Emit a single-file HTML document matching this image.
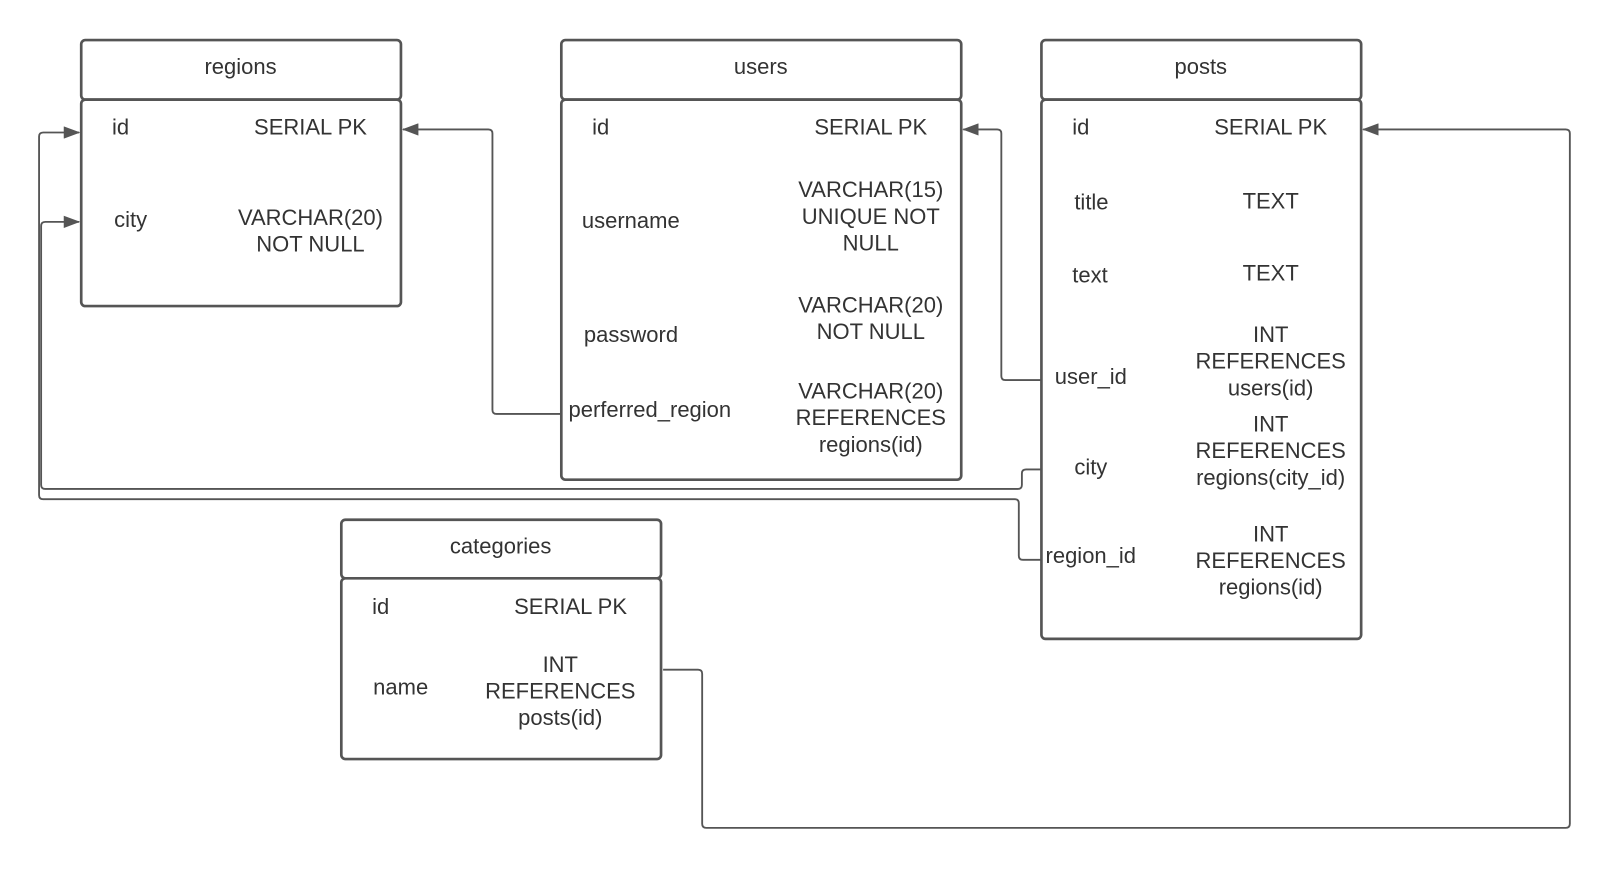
<!DOCTYPE html>
<html><head><meta charset="utf-8"><style>
html,body{margin:0;padding:0;background:#fff;}
svg{display:block;}
text{font-family:"Liberation Sans",sans-serif;font-size:21.4px;fill:#333;}
</style></head><body>
<svg width="1612" height="870" viewBox="0 0 1568 847" preserveAspectRatio="none" xmlns="http://www.w3.org/2000/svg">
<defs>
<marker id="a" markerWidth="16" markerHeight="12" refX="15" refY="6" orient="auto" markerUnits="userSpaceOnUse">
<path d="M0,0 L16,6 L0,12 z" fill="#555"/>
</marker>
</defs>
<g fill="none" stroke="#555" stroke-width="1.8" stroke-linejoin="round">
<path d="M555 403 H483 Q479 403 479 399 V130 Q479 126 475 126 H392" marker-end="url(#a)"/>
<path d="M1013 370 H978 Q974 370 974 366 V130 Q974 126 970 126 H937" marker-end="url(#a)"/>
<path d="M1013 457 H998 Q994 457 994 461 V472 Q994 476 990 476 H44 Q40 476 40 472 V220 Q40 216 44 216 H77" marker-end="url(#a)"/>
<path d="M1013 545 H995 Q991 545 991 541 V490 Q991 486 987 486 H42 Q38 486 38 482 V133 Q38 129 42 129 H77" marker-end="url(#a)"/>
<path d="M645 652 H679 Q683 652 683 656 V802 Q683 806 687 806 H1523 Q1527 806 1527 802 V130 Q1527 126 1523 126 H1326" marker-end="url(#a)"/>
</g>
<g fill="#fff" stroke="#555" stroke-width="2.6">
<rect x="79" y="39" width="311" height="58" rx="4"/>
<rect x="79" y="97" width="311" height="201" rx="4"/>
<rect x="546" y="39" width="389" height="58" rx="4"/>
<rect x="546" y="97" width="389" height="370" rx="4"/>
<rect x="1013" y="39" width="311" height="58" rx="4"/>
<rect x="1013" y="97" width="311" height="525" rx="4"/>
<rect x="332" y="506" width="311" height="57" rx="4"/>
<rect x="332" y="563" width="311" height="176" rx="4"/>
</g>
<g>
<text x="234" y="72" text-anchor="middle">regions</text>
<text x="109" y="131">id</text>
<text x="302" y="131" text-anchor="middle">SERIAL PK</text>
<text x="111" y="221">city</text>
<text x="302" y="219" text-anchor="middle">VARCHAR(20)</text>
<text x="302" y="245" text-anchor="middle">NOT NULL</text>

<text x="740" y="72" text-anchor="middle">users</text>
<text x="576" y="131">id</text>
<text x="847" y="131" text-anchor="middle">SERIAL PK</text>
<text x="566" y="222">username</text>
<text x="847" y="192" text-anchor="middle">VARCHAR(15)</text>
<text x="847" y="218" text-anchor="middle">UNIQUE NOT</text>
<text x="847" y="244" text-anchor="middle">NULL</text>
<text x="568" y="333">password</text>
<text x="847" y="304" text-anchor="middle">VARCHAR(20)</text>
<text x="847" y="330" text-anchor="middle">NOT NULL</text>
<text x="553" y="406">perferred_region</text>
<text x="847" y="388" text-anchor="middle">VARCHAR(20)</text>
<text x="847" y="414" text-anchor="middle">REFERENCES</text>
<text x="847" y="440" text-anchor="middle">regions(id)</text>

<text x="1168" y="72" text-anchor="middle">posts</text>
<text x="1043" y="131">id</text>
<text x="1236" y="131" text-anchor="middle">SERIAL PK</text>
<text x="1045" y="204">title</text>
<text x="1236" y="203" text-anchor="middle">TEXT</text>
<text x="1043" y="275">text</text>
<text x="1236" y="273" text-anchor="middle">TEXT</text>
<text x="1026" y="374">user_id</text>
<text x="1236" y="333" text-anchor="middle">INT</text>
<text x="1236" y="359" text-anchor="middle">REFERENCES</text>
<text x="1236" y="385" text-anchor="middle">users(id)</text>
<text x="1045" y="462">city</text>
<text x="1236" y="420" text-anchor="middle">INT</text>
<text x="1236" y="446" text-anchor="middle">REFERENCES</text>
<text x="1236" y="472" text-anchor="middle">regions(city_id)</text>
<text x="1017" y="548">region_id</text>
<text x="1236" y="527" text-anchor="middle">INT</text>
<text x="1236" y="553" text-anchor="middle">REFERENCES</text>
<text x="1236" y="579" text-anchor="middle">regions(id)</text>

<text x="487" y="539" text-anchor="middle">categories</text>
<text x="362" y="598">id</text>
<text x="555" y="598" text-anchor="middle">SERIAL PK</text>
<text x="363" y="676">name</text>
<text x="545" y="654" text-anchor="middle">INT</text>
<text x="545" y="680" text-anchor="middle">REFERENCES</text>
<text x="545" y="706" text-anchor="middle">posts(id)</text>
</g>
</svg>
</body></html>
